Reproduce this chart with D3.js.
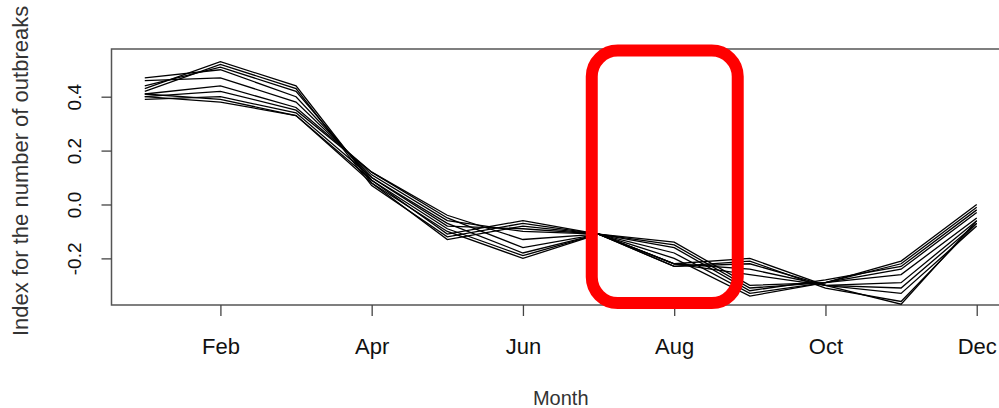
<!DOCTYPE html>
<html>
<head>
<meta charset="utf-8">
<script src="https://cdn.jsdelivr.net/npm/d3@7"></script>
<style>
  body { margin: 0; background: #fff; }
  text { font-family: "Liberation Sans", Arial, sans-serif; }
</style>
</head>
<body>
<script>
//------------ DATA ----------------------
const months = [1, 2, 3, 4, 5, 6, 7, 8, 9, 10, 11, 12];
const tickMonths = [2, 4, 6, 8, 10, 12];
const tickLabels = ["Feb", "Apr", "Jun", "Aug", "Oct", "Dec"];
const yTicks = [-0.2, 0.0, 0.2, 0.4];

// one array per curve, Jan..Dec
const s1  = [0.43, 0.53, 0.44, 0.08, -0.13, -0.08, -0.11, -0.14, -0.30, -0.29, -0.21,  0.00];
const s2  = [0.42, 0.52, 0.43, 0.07, -0.12, -0.07, -0.11, -0.15, -0.31, -0.29, -0.22, -0.01];
const s3  = [0.44, 0.51, 0.42, 0.09, -0.11, -0.06, -0.11, -0.16, -0.32, -0.28, -0.23, -0.02];
const s4  = [0.47, 0.50, 0.40, 0.10, -0.08, -0.09, -0.11, -0.18, -0.33, -0.29, -0.24, -0.03];
const s5  = [0.46, 0.47, 0.38, 0.11, -0.06, -0.10, -0.11, -0.20, -0.34, -0.29, -0.26, -0.05];
const s6  = [0.41, 0.44, 0.36, 0.12, -0.04, -0.13, -0.11, -0.22, -0.26, -0.30, -0.29, -0.06];
const s7  = [0.40, 0.42, 0.35, 0.12, -0.05, -0.16, -0.11, -0.22, -0.24, -0.30, -0.31, -0.07];
const s8  = [0.39, 0.40, 0.34, 0.10, -0.07, -0.18, -0.11, -0.23, -0.22, -0.30, -0.33, -0.08];
const s9  = [0.40, 0.38, 0.33, 0.09, -0.09, -0.19, -0.11, -0.23, -0.21, -0.31, -0.36, -0.07];
const s10 = [0.41, 0.39, 0.33, 0.08, -0.10, -0.20, -0.11, -0.22, -0.20, -0.30, -0.37, -0.06];
const series = [s1, s2, s3, s4, s5, s6, s7, s8, s9, s10];

// highlighted window (month range) drawn as a red box
const highlight = [6.91, 8.84];
//----------------------------------------

const width = 999, height = 408;

const svg = d3.select("body").append("svg")
    .attr("width", width)
    .attr("height", height);

// R style: 4% padding round data range
const x = d3.scaleLinear().domain([0.56, 12.44]).range([111.5, 1010]);
const y = d3.scaleLinear().domain([-0.373, 0.577]).range([305, 49]);

//------------ PLOT BOX ----------------------
svg.append("rect")
    .attr("x", x(0.56)).attr("y", y(0.577))
    .attr("width", x(12.44) - x(0.56)).attr("height", y(-0.373) - y(0.577))
    .attr("fill", "none").attr("stroke", "#555").attr("stroke-width", 1.5);

//------------ AXES ----------------------
const xAxis = d3.axisBottom(x)
    .tickValues(tickMonths)
    .tickFormat((d, i) => tickLabels[i])
    .tickSize(11)
    .tickPadding(22);

const gx = svg.append("g")
    .attr("transform", `translate(0,${y(-0.373)})`)
    .call(xAxis);
gx.select(".domain").remove();
gx.selectAll(".tick line").attr("stroke", "#444").attr("stroke-width", 1.3);
gx.selectAll(".tick text")
    .attr("font-size", 22).attr("fill", "#111")
    .attr("font-family", "Liberation Sans, Arial, sans-serif");

// R uses a plain hyphen for negatives
const fmt = d => d3.format(".1f")(d).replace("\u2212", "-");

const yAxis = d3.axisLeft(y)
    .tickValues(yTicks)
    .tickFormat(fmt)
    .tickSize(10)
    .tickPadding(0);

const gy = svg.append("g")
    .attr("transform", `translate(${x(0.56)},0)`)
    .call(yAxis);
gy.select(".domain").remove();
gy.selectAll(".tick line").attr("stroke", "#444").attr("stroke-width", 1.3);
gy.selectAll(".tick text")
    .attr("font-size", 19).attr("fill", "#111")
    .attr("font-family", "Liberation Sans, Arial, sans-serif")
    .attr("text-anchor", "middle")
    .attr("dy", null)
    .attr("x", null)
    .attr("transform", "translate(-31,0) rotate(-90)");

//------------ LINES ----------------------
const line = d3.line()
    .x((d, i) => x(months[i]))
    .y(d => y(d));

svg.append("g")
    .selectAll("path")
    .data(series)
    .join("path")
    .attr("d", line)
    .attr("fill", "none")
    .attr("stroke", "#000")
    .attr("stroke-width", 1.3);

//------------ TITLES ----------------------
svg.append("text")
    .attr("x", (x(0.56) + x(12.44)) / 2)
    .attr("y", 405)
    .attr("text-anchor", "middle")
    .attr("font-size", 20)
    .attr("fill", "#333")
    .text("Month");

svg.append("text")
    .attr("transform", `translate(28,336) rotate(-90)`)
    .attr("text-anchor", "start")
    .attr("font-size", 22)
    .attr("fill", "#333")
    .text("Index for the number of outbreaks");

//------------ HIGHLIGHT BOX ----------------------
svg.append("rect")
    .attr("x", x(highlight[0]))
    .attr("y", y(0.571))
    .attr("width", x(highlight[1]) - x(highlight[0]))
    .attr("height", y(-0.366) - y(0.571))
    .attr("rx", 26).attr("ry", 26)
    .attr("fill", "none")
    .attr("stroke", "#ff0000")
    .attr("stroke-width", 12);
</script>
</body>
</html>
